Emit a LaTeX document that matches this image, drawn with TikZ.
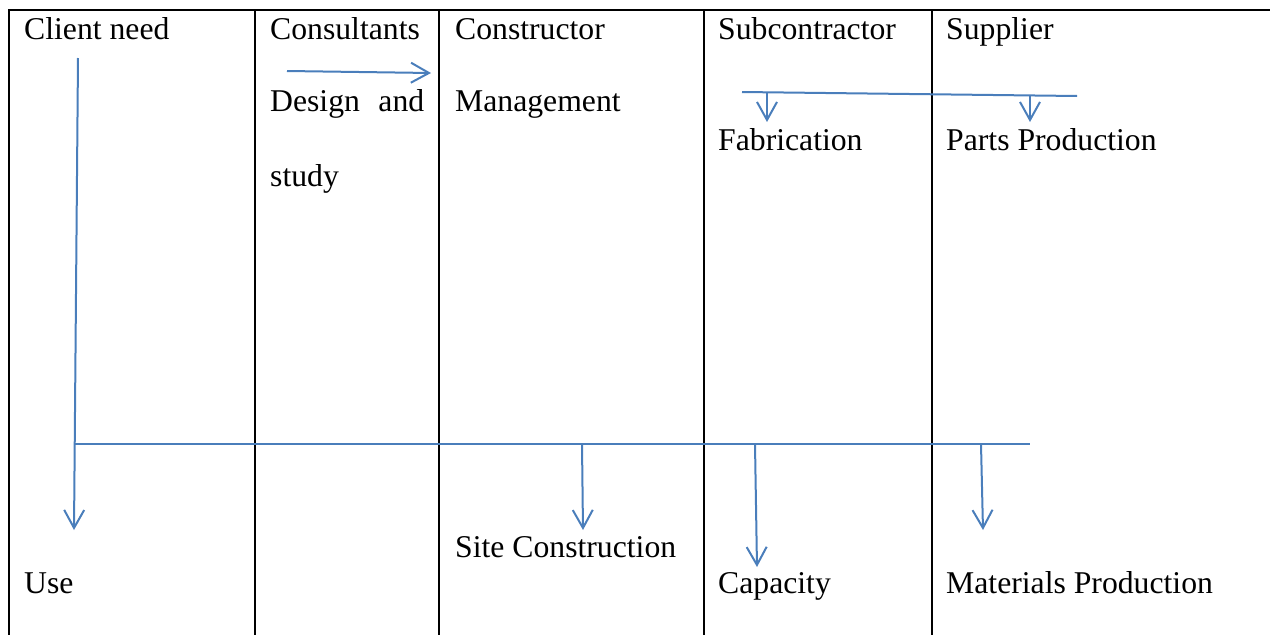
\documentclass[tikz,border=0pt]{standalone}
\usepackage{fontspec}
\setmainfont{Liberation Serif}
\usetikzlibrary{arrows.meta}
\definecolor{flowblue}{RGB}{74,126,187}
\begin{document}
\begin{tikzpicture}[x=1pt,y=-1pt,
  grid/.style={draw=black,line width=2pt},
  label/.style={anchor=base west,inner sep=0pt,font=\fontsize{31.7}{38}\selectfont},
  flow/.style={draw=flowblue,line width=2pt},
  flowarrow/.style={flow,-{Straight Barb[length=18pt,width=20pt,line width=2pt]}}]
\useasboundingbox (0,0) rectangle (1270,635);
% table rules
\draw[grid] (8,10) -- (1270,10);
\foreach \x in {9,255,439,704,932}
  \draw[grid] (\x,10) -- (\x,636);
% column headings
\node[label] (client) at (24,39) {Client need};
\node[label] (consult) at (270,39) {Consultants};
\node[label] (constr) at (455,39) {Constructor};
\node[label] (subcon) at (718,39) {Subcontractor};
\node[label] (supp) at (946,39) {Supplier};
% activities
\node[label] (design) at (270,111) {\makebox[154pt][s]{Design and}};
\node[label] (study) at (270,186) {study};
\node[label] (manage) at (455,111) {Management};
\node[label] (fab) at (718,150) {Fabrication};
\node[label] (parts) at (946,150) {Parts Production};
\node[label] (site) at (455,557) {Site Construction};
\node[label] (use) at (24,593) {Use};
\node[label] (capa) at (718,593) {Capacity};
\node[label] (mat) at (946,593) {Materials Production};
% connector points
\coordinate (cStart) at (78,58);
\coordinate (cEnd) at (74,530);
\coordinate (busL) at (75,444);
\coordinate (busR) at (1030,444);
\coordinate (siteTop) at (582,444);
\coordinate (siteTip) at (583,530);
\coordinate (capTop) at (755,444);
\coordinate (capTip) at (757,567);
\coordinate (matTop) at (981,444);
\coordinate (matTip) at (983,530);
\coordinate (conA) at (287,71);
\coordinate (conB) at (431,73);
\coordinate (topL) at (742,92);
\coordinate (topR) at (1077,96);
\coordinate (fabTop) at (767,92);
\coordinate (fabTip) at (767,122);
\coordinate (partTop) at (1030,95);
\coordinate (partTip) at (1030,122);
% connectors
\draw[flowarrow] (cStart) -- (cEnd);
\draw[flow] (busL) -- (busR);
\draw[flowarrow] (siteTop) -- (siteTip);
\draw[flowarrow] (capTop) -- (capTip);
\draw[flowarrow] (matTop) -- (matTip);
\draw[flowarrow] (conA) -- (conB);
\draw[flow] (topL) -- (topR);
\draw[flowarrow] (fabTop) -- (fabTip);
\draw[flowarrow] (partTop) -- (partTip);
\end{tikzpicture}
\end{document}
